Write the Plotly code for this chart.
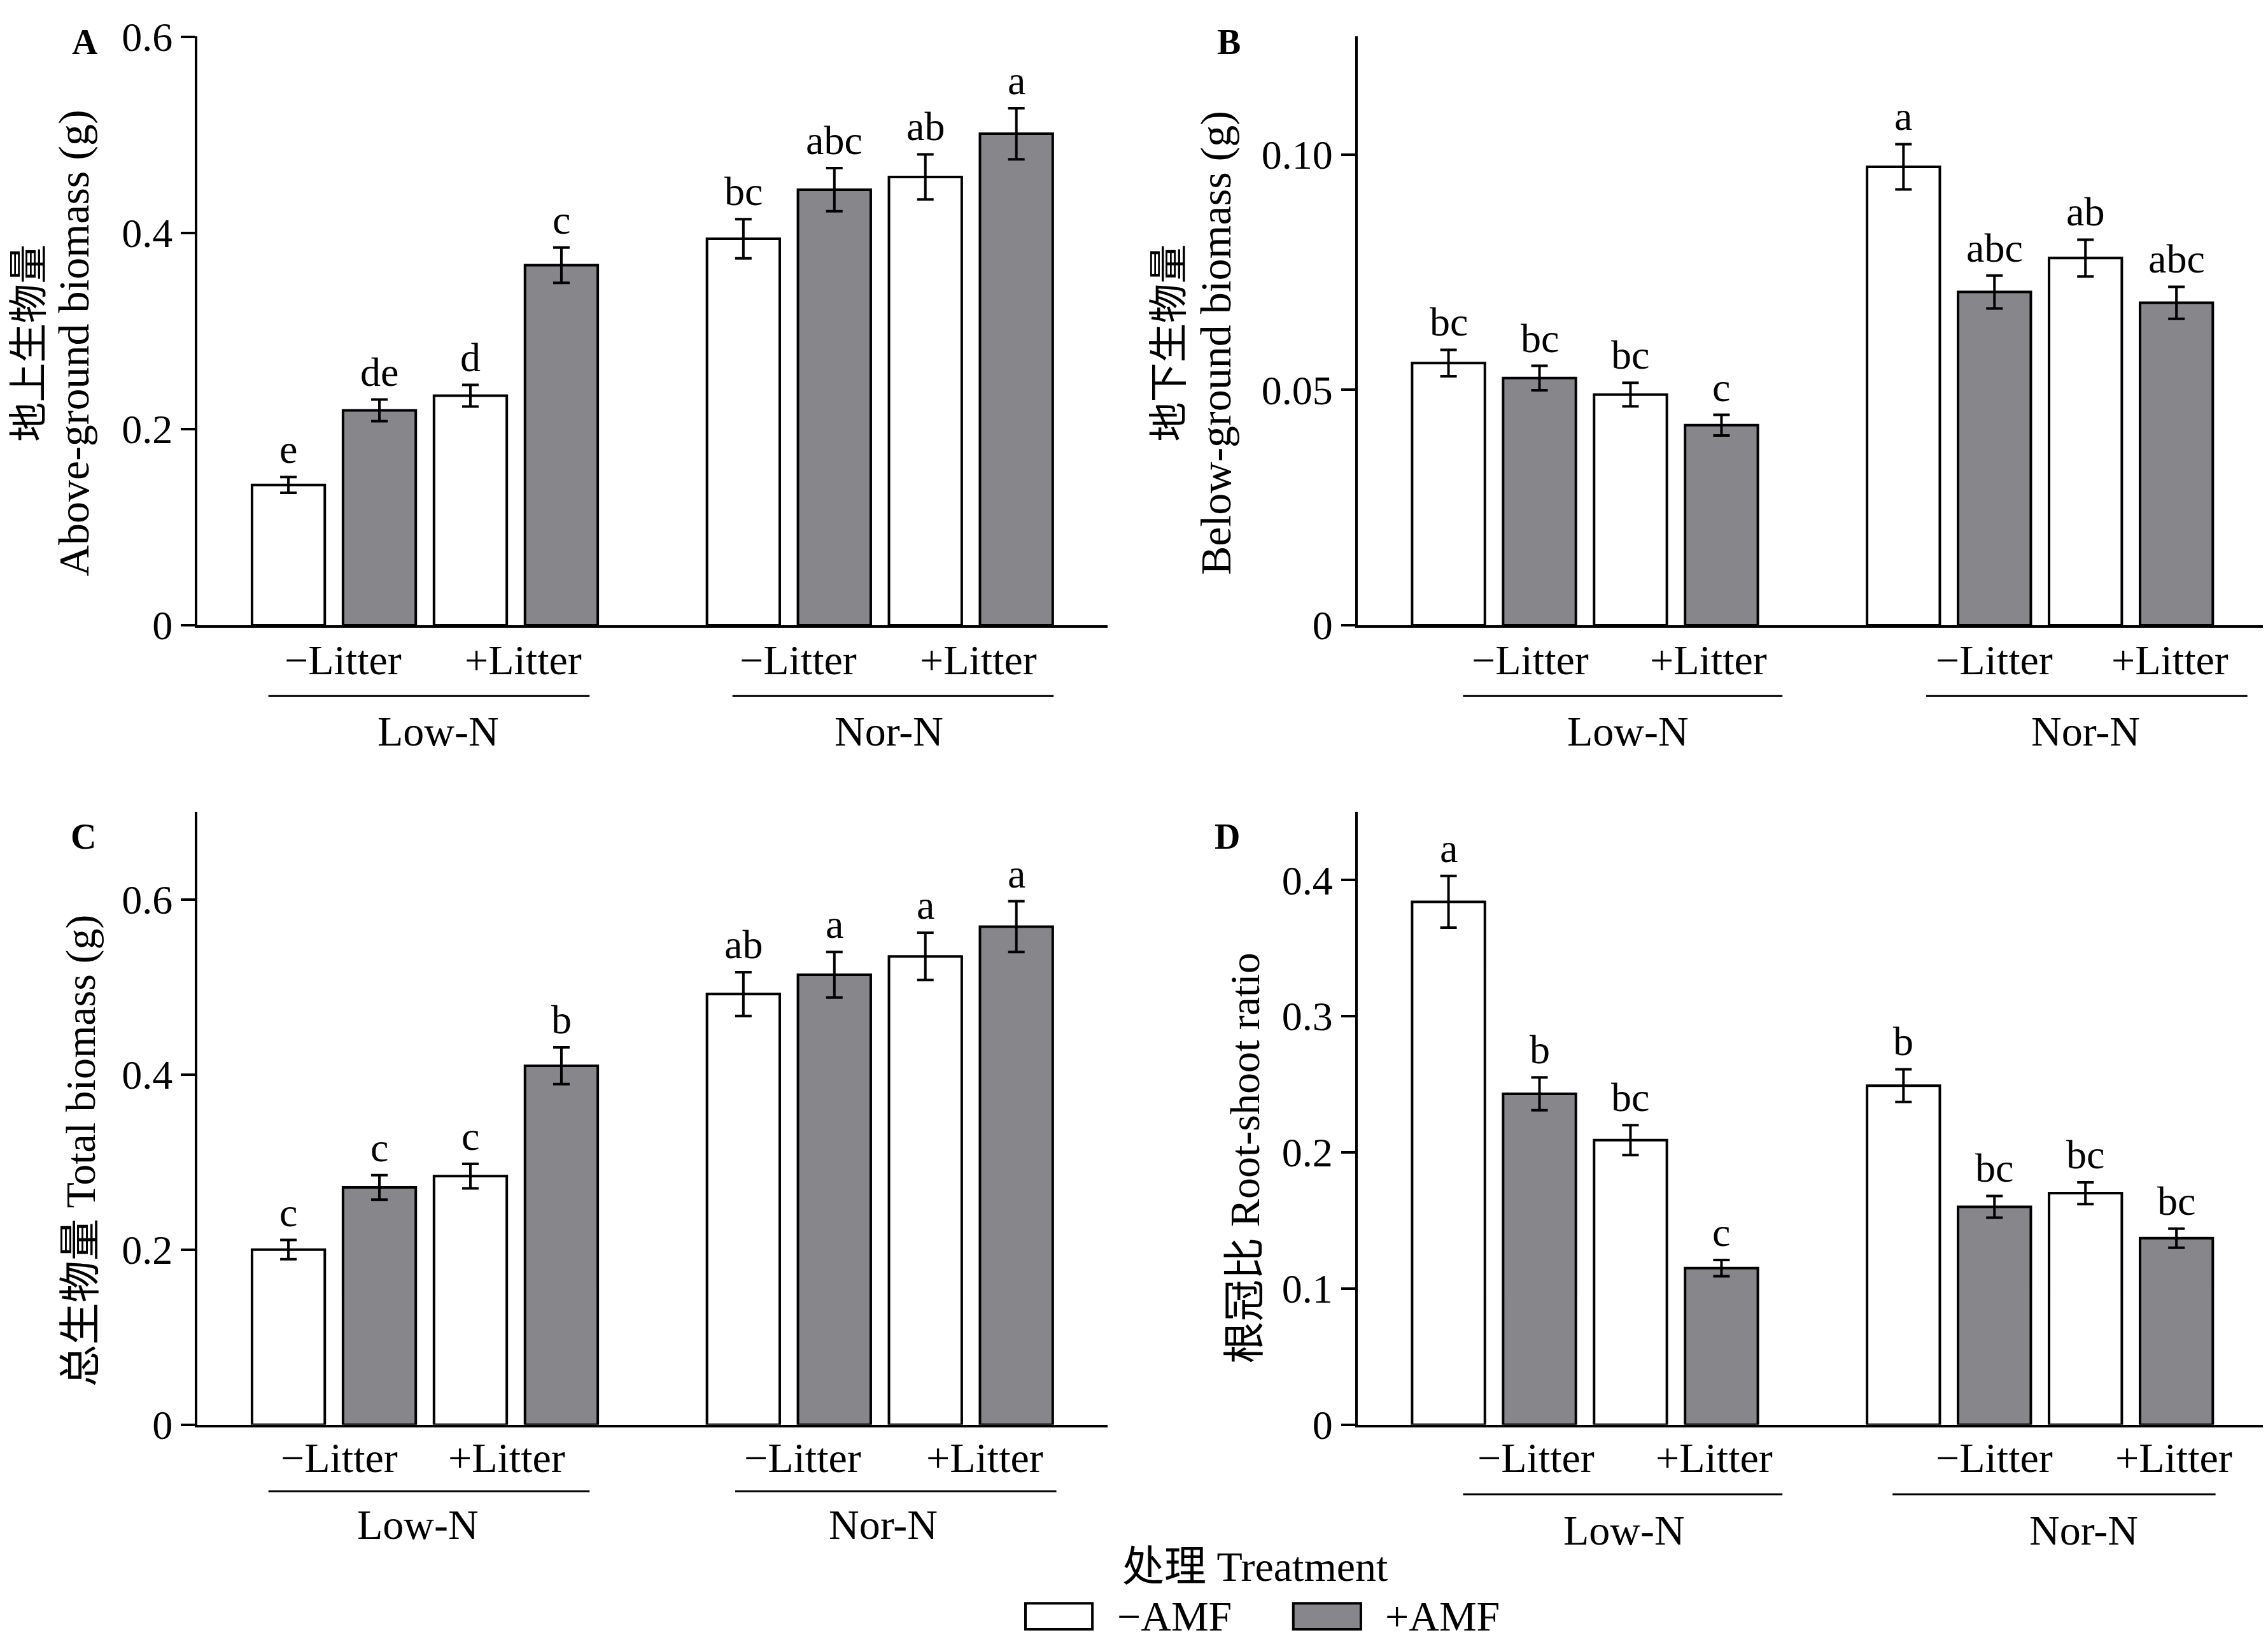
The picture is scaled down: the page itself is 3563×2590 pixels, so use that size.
import plotly.graph_objects as go
from plotly.subplots import make_subplots

# Tratamientos: Low-N / Nor-N  x  -Litter / +Litter  x  -AMF / +AMF
treatments = ['Low-N −Litter −AMF', 'Low-N −Litter +AMF', 'Low-N +Litter −AMF', 'Low-N +Litter +AMF',
              'Nor-N −Litter −AMF', 'Nor-N −Litter +AMF', 'Nor-N +Litter −AMF', 'Nor-N +Litter +AMF']
amf = ['−AMF', '+AMF', '−AMF', '+AMF', '−AMF', '+AMF', '−AMF', '+AMF']

# A: 地上生物量
agb = [0.143, 0.219, 0.234, 0.367, 0.394, 0.444, 0.457, 0.501]
agb_err = [0.008, 0.011, 0.011, 0.018, 0.020, 0.022, 0.023, 0.026]
agb_sig = ['e', 'de', 'd', 'c', 'bc', 'abc', 'ab', 'a']

# B: 地下生物量
bgb = [0.0557, 0.0525, 0.0490, 0.0425, 0.0974, 0.0708, 0.0780, 0.0685]
bgb_err = [0.0028, 0.0026, 0.0025, 0.0022, 0.0048, 0.0035, 0.0039, 0.0034]
bgb_sig = ['bc', 'bc', 'bc', 'c', 'a', 'abc', 'ab', 'abc']

# C: 总生物量
tot = [0.200, 0.271, 0.284, 0.410, 0.492, 0.514, 0.535, 0.569]
tot_err = [0.011, 0.014, 0.014, 0.021, 0.025, 0.026, 0.027, 0.029]
tot_sig = ['c', 'c', 'c', 'b', 'ab', 'a', 'a', 'a']

# D: 根冠比
rsr = [0.384, 0.243, 0.209, 0.115, 0.249, 0.160, 0.170, 0.137]
rsr_err = [0.019, 0.012, 0.011, 0.006, 0.012, 0.008, 0.008, 0.007]
rsr_sig = ['a', 'b', 'bc', 'c', 'b', 'bc', 'bc', 'bc']

litter_labels = ['−Litter', '+Litter', '−Litter', '+Litter']
n_labels = ['Low-N', 'Nor-N']

FONT = 'Liberation Serif, Times New Roman, Noto Sans CJK SC'
GRIS = '#87868b'

# posiciones de las barras: hueco entre los dos niveles de N
xpos = [i + i // 4 for i in range(len(treatments))]

fig = make_subplots(rows=2, cols=2)

paneles = [
    (agb, agb_err, agb_sig, 1, 1),
    (bgb, bgb_err, bgb_sig, 1, 2),
    (tot, tot_err, tot_sig, 2, 1),
    (rsr, rsr_err, rsr_sig, 2, 2),
]


def texto(t, x, y, size=66, xref='paper', yref='paper', **kw):
    fig.add_annotation(x=x, y=y, xref=xref, yref=yref, text=t, showarrow=False,
                       xanchor='center', yanchor=kw.pop('yanchor', 'middle'),
                       font=dict(size=size, family=FONT, color='black'), **kw)


for k, (vals, errs, sig, r, c) in enumerate(paneles):
    for nombre, color in [('−AMF', 'white'), ('+AMF', GRIS)]:
        idx = [i for i in range(len(vals)) if amf[i] == nombre]
        fig.add_trace(go.Bar(
            x=[xpos[i] for i in idx],
            y=[vals[i] for i in idx],
            width=0.8,
            name=nombre,
            showlegend=False,
            marker=dict(color=color, line=dict(color='black', width=4)),
            error_y=dict(type='data', array=[errs[i] for i in idx],
                         color='black', thickness=4, width=13),
        ), row=r, col=c)
    xa = 'x' if k == 0 else f'x{k + 1}'
    ya = 'y' if k == 0 else f'y{k + 1}'
    for i in range(len(vals)):
        texto(sig[i], xpos[i], vals[i] + errs[i], size=64, xref=xa, yref=ya,
              yanchor='bottom', yshift=6)

fig.update_layout(barmode='overlay')

# dominios de cada panel
dom_x = {1: [0.0848, 0.486], 2: [0.5963, 0.9975]}
dom_y = {1: [0.6270, 0.9940], 2: [0.1287, 0.5106]}
rangos = [[0, 0.6003], [0, 0.1251], [0, 0.7], [0, 0.45]]
ticks = [
    ([0, 0.2, 0.4, 0.6], ['0', '0.2', '0.4', '0.6']),
    ([0, 0.05, 0.10], ['0', '0.05', '0.10']),
    ([0, 0.2, 0.4, 0.6], ['0', '0.2', '0.4', '0.6']),
    ([0, 0.1, 0.2, 0.3, 0.4], ['0', '0.1', '0.2', '0.3', '0.4']),
]
for k, (vals, errs, sig, r, c) in enumerate(paneles):
    fig.update_xaxes(domain=dom_x[c], range=[-1, 9], showticklabels=False, ticks='',
                     showgrid=False, zeroline=False, showline=True,
                     linecolor='black', linewidth=4, row=r, col=c)
    fig.update_yaxes(domain=dom_y[r], range=rangos[k], tickvals=ticks[k][0],
                     ticktext=ticks[k][1], ticks='outside', ticklen=22, tickwidth=4,
                     tickcolor='black', showgrid=False, zeroline=False, showline=True,
                     linecolor='black', linewidth=4, ticklabeloverflow='allow',
                     tickfont=dict(size=64, family=FONT, color='black'),
                     row=r, col=c)

# etiquetas de los grupos bajo cada eje (posiciones tomadas de la figura)
etiquetas = [
    # litter x, (linea Low-N), (linea Nor-N), N x, y litter, y linea, y N
    ([0.6, 2.58, 5.6, 7.58], (-0.22, 3.31), (4.88, 8.41), [1.65, 6.6], 0.6053, 0.5828, 0.5611),
    ([0.9, 2.86, 6.0, 7.93], (0.16, 3.67), (5.25, 8.78), [1.97, 7.0], 0.6053, 0.5828, 0.5611),
    ([0.56, 2.4, 5.65, 7.65], (-0.22, 3.31), (4.91, 8.44), [1.42, 6.54], 0.1080, 0.0872, 0.0665),
    ([0.96, 2.92, 6.0, 7.97], (0.16, 3.67), (4.88, 8.43), [1.93, 6.98], 0.1080, 0.0853, 0.0628),
]
for k, (lx, l1, l2, nx, yl, yline, yn) in enumerate(etiquetas):
    xa = 'x' if k == 0 else f'x{k + 1}'
    for x, t in zip(lx, litter_labels):
        texto(t, x, yl, xref=xa)
    for (a, b) in (l1, l2):
        fig.add_shape(type='line', x0=a, x1=b, y0=yline, y1=yline, xref=xa, yref='paper',
                      line=dict(color='black', width=3))
    for x, t in zip(nx, n_labels):
        texto(t, x, yn, xref=xa)

# letras de panel y titulos de ejes
for t, x, y in [('A', 0.0351, 0.9904), ('B', 0.5395, 0.9904), ('C', 0.0344, 0.4952), ('D', 0.5389, 0.4952)]:
    texto(f'<b>{t}</b>', x, y, size=56)

titulos = [
    ('地上生物量', 0.0108, 0.8031, 62),
    ('Above-ground biomass (g)', 0.0303, 0.8031, 68),
    ('地下生物量', 0.5134, 0.8031, 62),
    ('Below-ground biomass (g)', 0.5338, 0.8031, 68),
    ('总生物量 Total biomass (g)', 0.0332, 0.2993, 66),
    ('根冠比 Root-shoot ratio', 0.5466, 0.2948, 66),
]
for t, x, y, s in titulos:
    texto(t, x, y, size=s, textangle=-90)

texto('处理 Treatment', 0.551, 0.0403, size=66)

# leyenda dibujada a mano
for (x0, x1), color, t, xt in [((0.4499, 0.4794), 'white', '−AMF', 0.5156),
                               ((0.568, 0.5978), GRIS, '+AMF', 0.6337)]:
    fig.add_shape(type='rect', x0=x0, x1=x1, y0=0.0012, y1=0.0174, xref='paper', yref='paper',
                  fillcolor=color, line=dict(color='black', width=4))
    texto(t, xt, 0.0094, size=66)

fig.update_layout(
    width=3563, height=2590,
    margin=dict(l=0, r=0, t=0, b=0),
    plot_bgcolor='white', paper_bgcolor='white',
    font=dict(family=FONT, color='black'),
    showlegend=False,
)

fig.write_html("out.html")
